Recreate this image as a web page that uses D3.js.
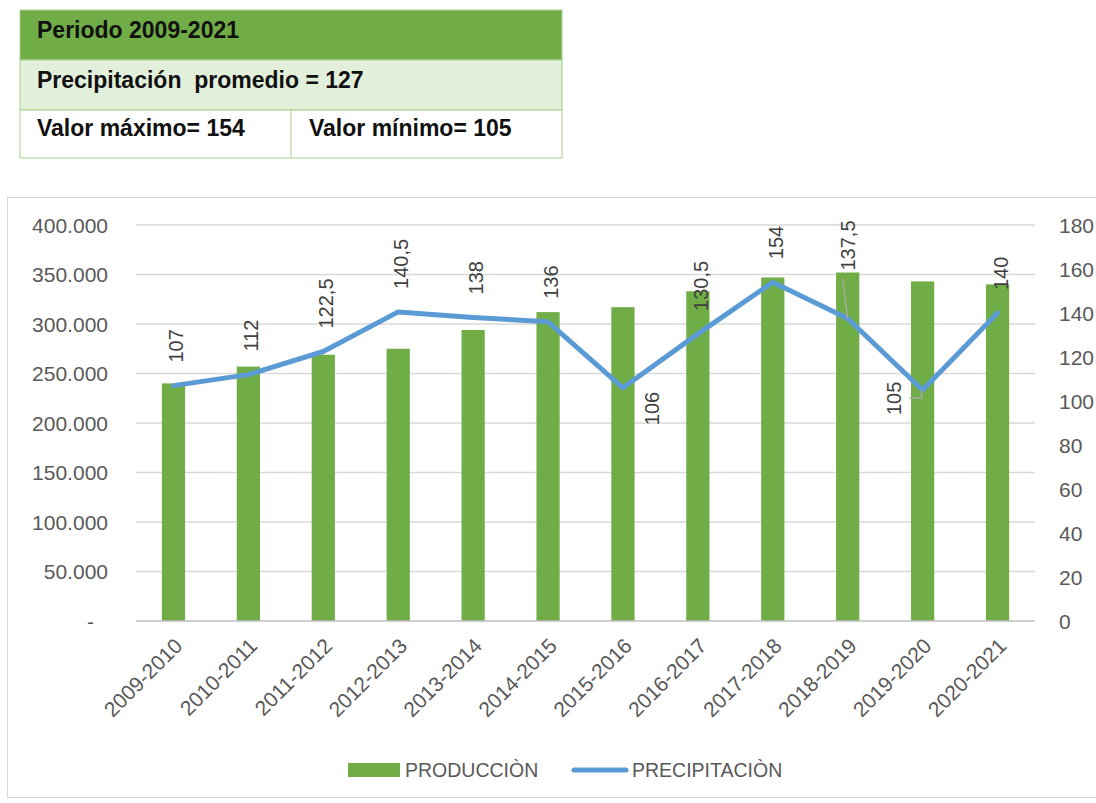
<!DOCTYPE html>
<html>
<head>
<meta charset="utf-8">
<script src="https://cdn.jsdelivr.net/npm/d3@7"></script>
<style>
  body { margin: 0; background: #fff; }
  svg { font-family: "Liberation Sans", Arial, sans-serif; }
</style>
</head>
<body>
<svg id="chart" width="1096" height="803"></svg>
<script>
// data
const periods = ['2009-2010', '2010-2011', '2011-2012', '2012-2013', '2013-2014', '2014-2015',
  '2015-2016', '2016-2017', '2017-2018', '2018-2019', '2019-2020', '2020-2021'];
const produccion = [240000, 257000, 269000, 275000, 294000, 312000, 317000, 333000, 347000, 352000, 343000, 340000];
const precipitacion = [107, 112, 122.5, 140.5, 138, 136, 106, 130.5, 154, 137.5, 105, 140];
const leftTicks = [0, 50000, 100000, 150000, 200000, 250000, 300000, 350000, 400000];
const rightTicks = [0, 20, 40, 60, 80, 100, 120, 140, 160, 180];
// label placement per point
const labelPos = ['above', 'above', 'above', 'above', 'above', 'above', 'below', 'above', 'above', 'leader', 'leaderLeft', 'above'];

const tableRows = [
  { text: 'Periodo 2009-2021', fill: '#70AD47' },
  { text: 'Precipitación  promedio = 127', fill: '#E2EFDA' }
];
const tableCells = ['Valor máximo= 154', 'Valor mínimo= 105'];

const svg = d3.select('#chart');
const GREEN = '#70AD47', BLUE = '#5B9BD5', GRID = '#D9D9D9', TXT = '#595959';

// summary table
const tbl = svg.append('g');
tableRows.forEach((r, i) => {
  tbl.append('rect').attr('x', 20).attr('y', 10 + i * 50).attr('width', 542).attr('height', 50)
    .attr('fill', r.fill).attr('stroke', '#A9D08E');
  tbl.append('text').attr('x', 37).attr('y', 38 + i * 50).text(r.text)
    .style('white-space', 'pre')
    .attr('font-size', 23).attr('font-weight', 'bold').attr('fill', '#111');
});
tbl.append('rect').attr('x', 20).attr('y', 110).attr('width', 542).attr('height', 48)
  .attr('fill', '#fff').attr('stroke', '#A9D08E');
tbl.append('line').attr('x1', 291).attr('x2', 291).attr('y1', 110).attr('y2', 158).attr('stroke', '#A9D08E');
tableCells.forEach((t, i) => {
  tbl.append('text').attr('x', i ? 309 : 37).attr('y', 136).text(t)
    .attr('font-size', 23).attr('font-weight', 'bold').attr('fill', '#111');
});

// chart frame
svg.append('rect').attr('x', 7.5).attr('y', 197.5).attr('width', 1100).attr('height', 600)
  .attr('fill', 'none').attr('stroke', GRID);

const plotL = 136, plotR = 1035, plotT = 225, plotB = 621;

const x = d3.scaleBand().domain(periods).range([plotL, plotR]).paddingInner(0.69).paddingOuter(0.345);
const xc = d => x(d) + x.bandwidth() / 2;
const yL = d3.scaleLinear().domain([0, 400000]).range([plotB, plotT]);
const yR = d3.scaleLinear().domain([0, 180]).range([plotB, plotT]);

const loc = d3.formatLocale({ decimal: ',', thousands: '.', grouping: [3], currency: ['', ''] });
const fmtL = v => v === 0 ? '-' : loc.format(',')(v);
const fmtLbl = loc.format(',');

// gridlines
svg.append('g').selectAll('line').data(leftTicks.slice(1)).join('line')
  .attr('x1', plotL).attr('x2', plotR).attr('y1', d => yL(d)).attr('y2', d => yL(d))
  .attr('stroke', GRID).attr('stroke-width', 1.5);

// bars
svg.append('g').selectAll('rect').data(produccion).join('rect')
  .attr('x', (d, i) => x(periods[i])).attr('width', x.bandwidth())
  .attr('y', d => yL(d)).attr('height', d => plotB - yL(d))
  .attr('fill', GREEN);

// baseline
svg.append('line').attr('x1', plotL).attr('x2', plotR).attr('y1', plotB).attr('y2', plotB)
  .attr('stroke', '#BFBFBF').attr('stroke-width', 1.5);

// left axis
const axL = svg.append('g').attr('transform', `translate(${plotL - 28},0)`)
  .call(d3.axisLeft(yL).tickValues(leftTicks).tickFormat(fmtL).tickSize(0).tickPadding(0));
axL.select('.domain').remove();
axL.selectAll('text').attr('font-size', 21).attr('fill', TXT).attr('dy', '0.35em')
  .attr('dx', d => d === 0 ? -14 : 0);

// right axis
const axR = svg.append('g').attr('transform', `translate(${plotR + 24},0)`)
  .call(d3.axisRight(yR).tickValues(rightTicks).tickSize(0).tickPadding(0));
axR.select('.domain').remove();
axR.selectAll('text').attr('font-size', 21).attr('fill', TXT).attr('dy', '0.35em');

// category axis
const axX = svg.append('g').attr('transform', `translate(0,${plotB})`)
  .call(d3.axisBottom(x).tickSize(0).tickPadding(0));
axX.select('.domain').remove();
axX.selectAll('text').attr('font-size', 21).attr('fill', TXT)
  .attr('text-anchor', 'end').attr('transform', 'translate(5,21) rotate(-45)').attr('dy', '0.35em');

// precipitation line
svg.append('path').datum(precipitacion)
  .attr('fill', 'none').attr('stroke', BLUE).attr('stroke-width', 5).attr('stroke-linejoin', 'round')
  .attr('stroke-linecap', 'round')
  .attr('d', d3.line().x((d, i) => xc(periods[i])).y(d => yR(d)));

// leader lines
const lead = svg.append('g').attr('stroke', '#A6A6A6').attr('stroke-width', 1.5).attr('fill', 'none');
precipitacion.forEach((v, i) => {
  const cx = xc(periods[i]), cy = yR(v);
  if (labelPos[i] === 'leader') lead.append('path').attr('d', `M${cx - 5},${cy - 40}L${cx},${cy}`);
  if (labelPos[i] === 'leaderLeft') lead.append('path').attr('d', `M${cx - 13},${cy + 8}H${cx - 1}V${cy}`);
});

// data labels (rotated)
svg.append('g').selectAll('text').data(precipitacion).join('text')
  .attr('font-size', 20).attr('fill', '#404040')
  .attr('transform', (d, i) => {
    const cx = xc(periods[i]), cy = yR(d), p = labelPos[i];
    if (p === 'below') return `translate(${cx + 36},${cy + 4}) rotate(-90)`;
    if (p === 'leader') return `translate(${cx + 7},${cy - 48}) rotate(-90)`;
    if (p === 'leaderLeft') return `translate(${cx - 22},${cy + 25}) rotate(-90)`;
    return `translate(${cx + 10},${cy - 23}) rotate(-90)`;
  })
  .attr('text-anchor', (d, i) => labelPos[i] === 'below' ? 'end' : 'start')
  .text(d => fmtLbl(d));

// legend
const lg = svg.append('g').attr('font-size', 19.5).attr('fill', TXT);
lg.append('rect').attr('x', 348).attr('y', 763).attr('width', 52).attr('height', 14).attr('fill', GREEN);
lg.append('text').attr('x', 405).attr('y', 777).text('PRODUCCIÒN');
lg.append('line').attr('x1', 574).attr('x2', 626).attr('y1', 770).attr('y2', 770)
  .attr('stroke', BLUE).attr('stroke-width', 5).attr('stroke-linecap', 'round');
lg.append('text').attr('x', 632).attr('y', 777).text('PRECIPITACIÒN');
</script>
</body>
</html>
